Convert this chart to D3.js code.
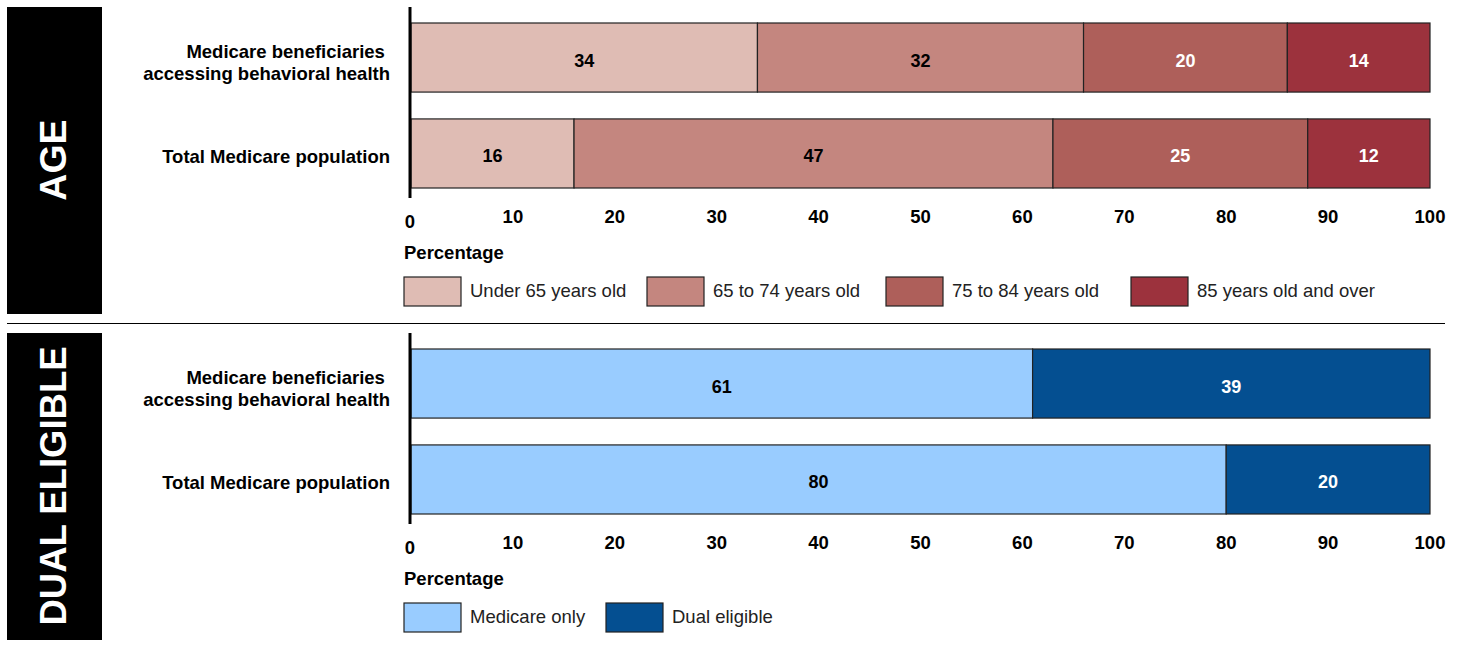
<html>
<head>
<script src="https://d3js.org/d3.v7.min.js"></script>
<style>
    body { margin: 0; background: #fff; }
    svg text { font-family: "Liberation Sans", Arial, sans-serif; }
</style>
</head>
<body>
<svg id="chart" width="1461" height="645"></svg>
<script>
// data
const rowLabels = [["Medicare beneficiaries ", "accessing behavioral health"], ["Total Medicare population"]];
const ageKeys = ["Under 65 years old", "65 to 74 years old", "75 to 84 years old", "85 years old and over"];
const ageBehavioral = [34, 32, 20, 14];
const ageTotal = [16, 47, 25, 12];
const dualKeys = ["Medicare only", "Dual eligible"];
const dualBehavioral = [61, 39];
const dualTotal = [80, 20];
const ticks = [0, 10, 20, 30, 40, 50, 60, 70, 80, 90, 100];

const ageColors = ["#dfbcb4", "#c4867f", "#ae5f5a", "#9c323d"];
const ageText = ["#000", "#000", "#fff", "#fff"];
const dualColors = ["#99ccff", "#044f91"];
const dualText = ["#000", "#fff"];

const svg = d3.select("#chart");
const x = d3.scaleLinear().domain([0, 100]).range([411, 1430]);
const fs = 18.5;

function panel(top, title, titleSize, keys, rows, colors, textColors, legendX) {
    const g = svg.append("g").attr("transform", `translate(0,${top})`);

    // side title block
    g.append("rect").attr("x", 7).attr("y", 0).attr("width", 95).attr("height", 307).attr("fill", "#000");
    g.append("text")
        .attr("transform", `translate(66,153) rotate(-90)`)
        .attr("text-anchor", "middle")
        .attr("fill", "#fff")
        .attr("font-weight", "bold")
        .attr("font-size", titleSize)
        .text(title);

    const y = d3.scaleBand().domain([0, 1]).range([16, 181]).paddingInner(0.28).paddingOuter(0);

    rows.forEach((vals, i) => {
        let acc = 0;
        const segs = vals.map((v, j) => { const s = { x0: acc, x1: acc + v, v, j }; acc += v; return s; });
        const row = g.append("g");
        row.selectAll("rect")
            .data(segs)
            .join("rect")
            .attr("x", d => x(d.x0))
            .attr("y", y(i))
            .attr("width", d => x(d.x1) - x(d.x0))
            .attr("height", y.bandwidth())
            .attr("fill", d => colors[d.j])
            .attr("stroke", "#222")
            .attr("stroke-width", 1.2);
        row.selectAll("text")
            .data(segs)
            .join("text")
            .attr("x", d => x((d.x0 + d.x1) / 2))
            .attr("y", y(i) + y.bandwidth() / 2 + 9)
            .attr("text-anchor", "middle")
            .attr("font-weight", "bold")
            .attr("font-size", 18)
            .attr("fill", d => textColors[d.j])
            .text(d => d.v);

        // category label
        const lines = rowLabels[i];
        const cy = y(i) + y.bandwidth() / 2;
        lines.forEach((ln, k) => {
            g.append("text")
                .attr("x", 390)
                .attr("y", lines.length > 1 ? cy + 0.5 + k * 22 : cy + 10)
                .attr("text-anchor", "end")
                .attr("font-weight", "bold")
                .attr("font-size", fs)
                .attr("xml:space", "preserve")
                .style("white-space", "pre")
                .text(ln);
        });
    });

    // y axis line
    g.append("line").attr("x1", 410).attr("x2", 410).attr("y1", 0).attr("y2", 191)
        .attr("stroke", "#000").attr("stroke-width", 3);

    // x tick labels
    g.selectAll("text.tick")
        .data(ticks)
        .join("text")
        .attr("class", "tick")
        .attr("x", d => x(d) - (d === 0 ? 1 : 0))
        .attr("y", d => d === 0 ? 221 : 215.5)
        .attr("text-anchor", "middle")
        .attr("font-weight", "bold")
        .attr("font-size", fs)
        .text(d => d);

    g.append("text").attr("x", 404).attr("y", 251.5)
        .attr("font-weight", "bold").attr("font-size", fs).text("Percentage");

    // legend
    const lg = g.selectAll("g.leg")
        .data(keys)
        .join("g")
        .attr("class", "leg")
        .attr("transform", (d, i) => `translate(${legendX[i]},270)`);
    lg.append("rect").attr("x", 0).attr("y", 0).attr("width", 57).attr("height", 29)
        .attr("fill", (d, i) => colors[i]).attr("stroke", "#222").attr("stroke-width", 1.2);
    lg.append("text").attr("x", 66).attr("y", 20).attr("font-size", fs).attr("fill", "#222").text(d => d);
}

panel(7, "AGE", 37.5, ageKeys, [ageBehavioral, ageTotal], ageColors, ageText, [404, 647, 886, 1131]);
panel(333, "DUAL ELIGIBLE", 36.5, dualKeys, [dualBehavioral, dualTotal], dualColors, dualText, [404, 606]);

// separator
svg.append("line").attr("x1", 7).attr("x2", 1445).attr("y1", 323.5).attr("y2", 323.5)
    .attr("stroke", "#000").attr("stroke-width", 1.2);
</script>
</body>
</html>
